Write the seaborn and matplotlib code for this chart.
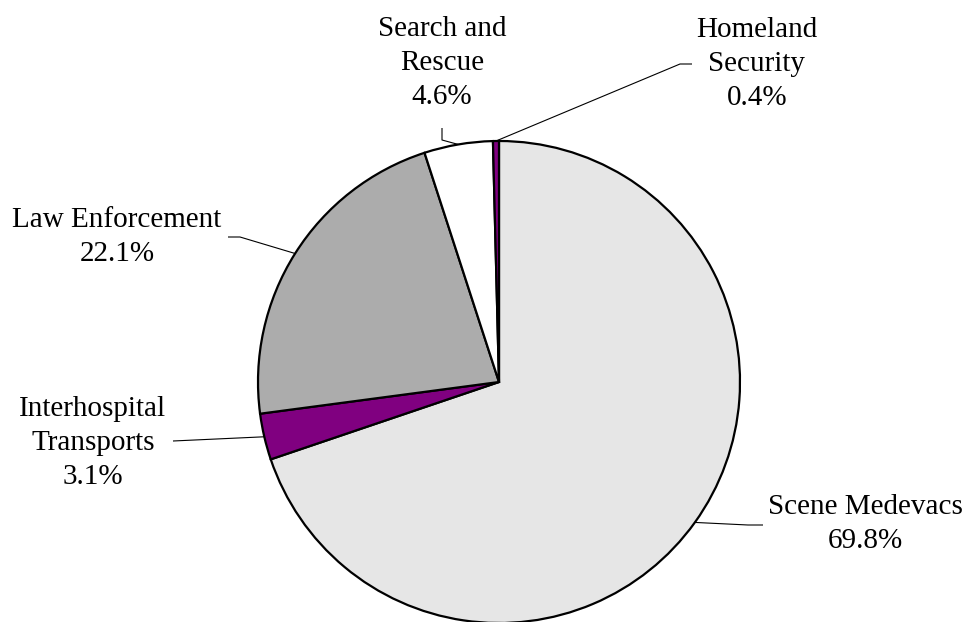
import numpy as np
import matplotlib
matplotlib.use("Agg")
import matplotlib.pyplot as plt
import seaborn as sns

sns.set_theme(style="white")
plt.rcParams['font.family'] = ['Liberation Serif', 'DejaVu Serif']

# data (clockwise from 12 o'clock)
categories = ["Scene Medevacs", "Interhospital\nTransports", "Law Enforcement",
              "Search and\nRescue", "Homeland\nSecurity"]
shares = [69.8, 3.1, 22.1, 4.6, 0.4]
colors = ["#e6e6e6", "#800080", "#acacac", "#ffffff", "#800080"]

W, H = 967, 622
# label centres and leader start points, in pixels from top-left
label_pos = [(865, 524), (93, 443), (117, 237), (442, 63), (757, 64)]
leader_pts = [
    [(763, 525), (748, 525)],
    [(173, 441)],
    [(228, 237), (240, 237)],
    [(442, 128), (442, 140)],
    [(692, 64), (680, 64)],
]


def flip(p):
    return (p[0], H - p[1])


fig = plt.figure(figsize=(W / 100, H / 100), dpi=100)
ax = fig.add_axes([0, 0, 1, 1])
ax.set_xlim(0, W)
ax.set_ylim(0, H)
ax.axis("off")

cx, cy, r = 499, H - 382, 241
wedges, _ = ax.pie(shares, colors=colors, startangle=90, counterclock=False,
                   center=(cx, cy), radius=r,
                   wedgeprops=dict(edgecolor="black", linewidth=1.6))
ax.set_xlim(0, W)
ax.set_ylim(0, H)

for w, lab, val, pos, pts in zip(wedges, categories, shares, label_pos, leader_pts):
    mid = np.deg2rad((w.theta1 + w.theta2) / 2)
    edge = (cx + r * np.cos(mid), cy + r * np.sin(mid))
    line = [flip(p) for p in pts] + [edge]
    xs, ys = zip(*line)
    ax.plot(xs, ys, color="black", lw=0.8, solid_capstyle="butt")
    tx, ty = flip(pos)
    ax.text(tx, ty, f"{lab}\n{val:.1f}%", ha="center", va="center",
            fontsize=21, linespacing=1.4, color="black")

fig.savefig("out.png", dpi=100)
